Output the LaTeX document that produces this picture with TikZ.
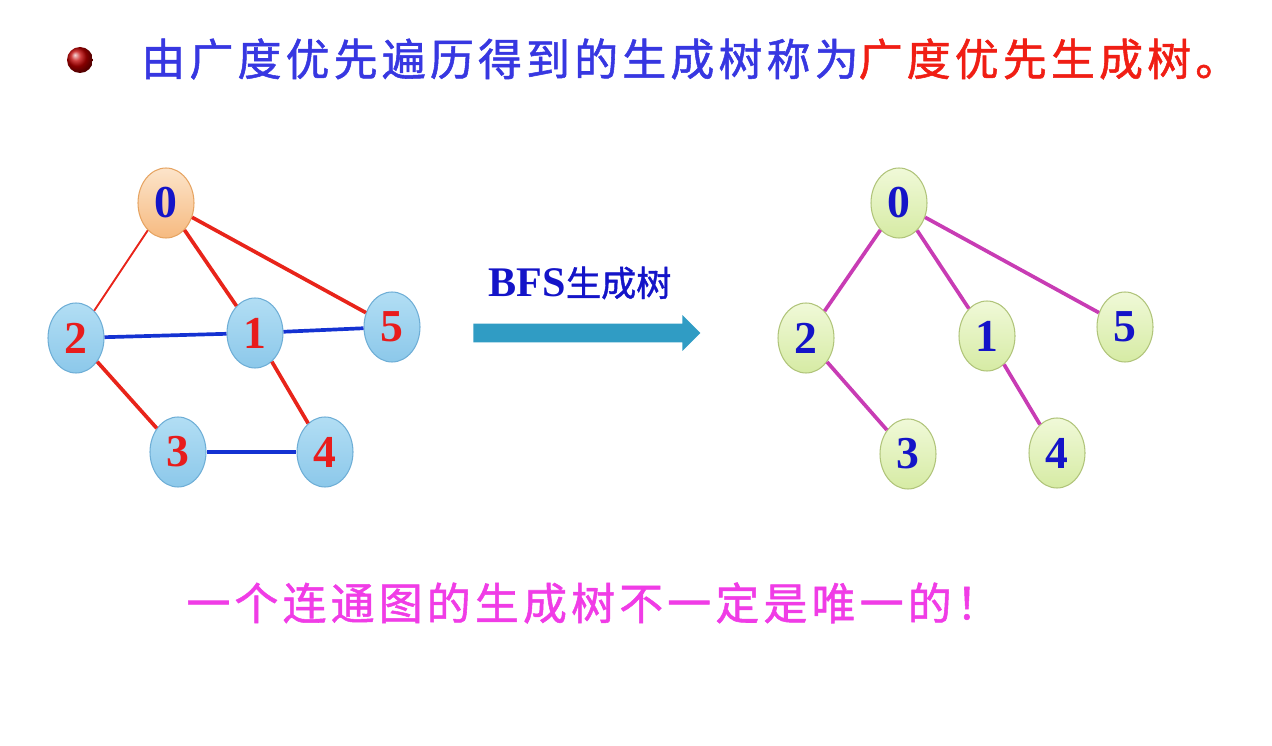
\documentclass[tikz,border=0pt]{standalone}
\usepackage{fontspec}
\setmainfont{Liberation Serif}
\newfontfamily\cjk[LetterSpace=9.5, FakeBold=1.2]{Noto Sans CJK SC}
\newfontfamily\cjkplain[FakeBold=1.2]{Noto Sans CJK SC}
\usetikzlibrary{shapes.geometric,shapes.arrows}

\definecolor{titleblue}{HTML}{3737E1}
\definecolor{titlered}{HTML}{F01E14}
\definecolor{tipmagenta}{HTML}{F03CE6}
\definecolor{edgered}{HTML}{E8241A}
\definecolor{edgeblue}{HTML}{1432D2}
\definecolor{treemag}{HTML}{C83CB4}
\definecolor{digitred}{HTML}{E81C1C}
\definecolor{digitblue}{HTML}{1414C8}
\definecolor{arrowteal}{HTML}{309CC4}
\definecolor{skytop}{HTML}{B2DEF4}
\definecolor{skybot}{HTML}{8CC8EA}
\definecolor{skyrim}{HTML}{6EAED6}
\definecolor{peachtop}{HTML}{FCE4CA}
\definecolor{peachbot}{HTML}{F6BA80}
\definecolor{peachrim}{HTML}{E6A462}
\definecolor{limetop}{HTML}{F0F9D8}
\definecolor{limebot}{HTML}{D6EBA4}
\definecolor{limerim}{HTML}{B0C47A}

\tikzset{
  vtx/.style = {ellipse, line width = 0.6pt, minimum width = 1.12cm, minimum height = 1.4cm,
                inner sep = 0pt, font = \fontsize{26}{26}\selectfont\bfseries},
  bluevtx/.style = {vtx, draw = skyrim, top color = skytop, bottom color = skybot, text = digitred},
  startvtx/.style = {vtx, draw = peachrim, top color = peachtop, bottom color = peachbot, text = digitblue},
  treevtx/.style = {vtx, draw = limerim, top color = limetop, bottom color = limebot, text = digitblue},
  rededge/.style = {edgered, line width = 2.1pt},
  blueedge/.style = {edgeblue, line width = 2.1pt},
  treeedge/.style = {treemag, line width = 2.1pt}
}

\begin{document}
\begin{tikzpicture}[x = 0.02cm, y = -0.02cm]
    \useasboundingbox (0, 0) rectangle (1272, 746);
    % heading
    \node[circle, ball color = red!75!black, minimum size = 0.52cm, inner sep = 0pt] (dot) at (80, 60) {};
    \node[anchor = west, inner sep = 0pt, font = \cjk\fontsize{25}{25}\selectfont] (title) at (141, 59)
        {\textcolor{titleblue}{由广度优先遍历得到的生成树称为}\textcolor{titlered}{广度优先生成树。}};

    % graph
    \node[startvtx] (a0) at (166, 203) {0};
    \node[bluevtx] (a2) at (76, 338) {2};
    \node[bluevtx] (a1) at (255, 333) {1};
    \node[bluevtx] (a5) at (392, 327) {5};
    \node[bluevtx] (a3) at (178, 452) {3};
    \node[bluevtx] (a4) at (325, 452) {4};
    \draw[edgered, line width = 1.1pt] (a0) -- (a2);
    \draw[rededge] (a0) -- (a1);
    \draw[rededge] (a0) -- (a5);
    \draw[rededge] (a2) -- (a3);
    \draw[rededge] (a1) -- (a4);
    \draw[blueedge] (a2) -- (a1);
    \draw[blueedge] (a1) -- (a5);
    \draw[blueedge] (a3) -- (a4);

    % arrow
    \node[single arrow, fill = arrowteal, minimum height = 4.54cm, inner sep = 0.18cm,
          single arrow head extend = 0.17cm, single arrow head indent = 0pt,
          anchor = west] (bfs) at (473, 333) {};
    \node[text = digitblue, inner sep = 0pt] (bfslabel) at (580, 283)
        {\fontsize{24}{24}\selectfont\bfseries BFS\cjkplain\mdseries\fontsize{20}{20}\selectfont 生成树};

    % spanning tree
    \node[treevtx] (b0) at (899, 203) {0};
    \node[treevtx] (b2) at (806, 338) {2};
    \node[treevtx] (b1) at (987, 336) {1};
    \node[treevtx] (b5) at (1125, 327) {5};
    \node[treevtx] (b3) at (908, 454) {3};
    \node[treevtx] (b4) at (1057, 453) {4};
    \draw[treeedge] (b0) -- (b2);
    \draw[treeedge] (b0) -- (b1);
    \draw[treeedge] (b0) -- (b5);
    \draw[treeedge] (b2) -- (b3);
    \draw[treeedge] (b1) -- (b4);

    % remark
    \node[anchor = west, inner sep = 0pt, text = tipmagenta, font = \cjk\fontsize{25}{25}\selectfont] (remark) at (186, 603)
        {一个连通图的生成树不一定是唯一的！};
\end{tikzpicture}
\end{document}
